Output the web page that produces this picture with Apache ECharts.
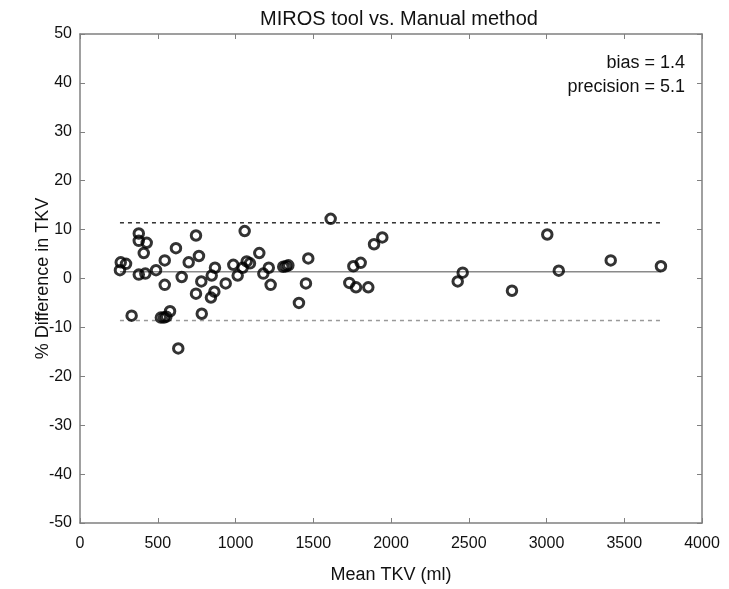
<!DOCTYPE html>
<html>
<head>
<meta charset="utf-8">
<script src="https://cdn.jsdelivr.net/npm/echarts@6/dist/echarts.min.js"></script>
<style>html,body{margin:0;padding:0;background:#fff}#c{width:729px;height:589px}</style>
</head>
<body>
<div id="c"></div>
<script>
var meanTKV = [257, 262, 296, 332, 378, 378, 429, 410, 378, 420, 489, 545, 545,
  520, 540, 555, 579, 617, 632, 654, 699, 746, 765, 746, 780, 783, 847, 868, 864, 842,
  937, 986, 1014, 1059, 1046, 1072, 1093, 1153, 1179, 1214, 1226, 1307, 1325, 1340,
  1408, 1453, 1468, 1612, 1732, 1758, 1775, 1805, 1854, 1891, 1944, 2461, 2429, 2778,
  3005, 3079, 3413, 3736];
var pctDiff = [1.7, 3.3, 3.0, -7.6, 9.2, 7.7, 7.3, 5.2, 0.8, 1.0, 1.7, 3.7, -1.3,
  -8.0, -8.0, -7.8, -6.7, 6.2, -14.3, 0.3, 3.3, 8.8, 4.6, -3.1, -0.6, -7.2, 0.6, 2.2, -2.7, -3.9,
  -1.0, 2.8, 0.6, 9.7, 2.2, 3.5, 3.1, 5.2, 1.0, 2.2, -1.3, 2.4, 2.5, 2.7,
  -5.0, -1.0, 4.1, 12.2, -0.9, 2.5, -1.8, 3.2, -1.8, 7.0, 8.4, 1.2, -0.6, -2.5,
  9.0, 1.6, 3.7, 2.5];
var bias = 1.4;
var precision = 5.1;
var xTicks = [0, 500, 1000, 1500, 2000, 2500, 3000, 3500, 4000];
var yTicks = [-50, -40, -30, -20, -10, 0, 10, 20, 30, 40, 50];

var upper = bias + 1.96 * precision;
var lower = bias - 1.96 * precision;
var xMin = Math.min.apply(null, meanTKV), xMax = Math.max.apply(null, meanTKV);
var pts = meanTKV.map(function (x, i) { return [x, pctDiff[i]]; });

var FONT = 'Liberation Sans';
var axisCol = '#808080';
var txtCol = '#111';
var chart = echarts.init(document.getElementById('c'));
chart.setOption({
  animation: false,
  backgroundColor: '#fff',
  title: {
    text: 'MIROS tool vs. Manual method', left: 394, top: 4, textAlign: 'center',
    textStyle: { fontFamily: FONT, fontSize: 20, fontWeight: 'normal', color: txtCol }
  },
  grid: { left: 80, right: 27, top: 34, bottom: 65 },
  xAxis: [{
    type: 'value', min: xTicks[0], max: xTicks[xTicks.length - 1], interval: 500,
    name: 'Mean TKV (ml)', nameLocation: 'middle', nameGap: 43, nameMoveOverlap: false,
    nameTextStyle: { fontFamily: FONT, fontSize: 18, color: txtCol },
    axisLine: { onZero: false, lineStyle: { color: axisCol, width: 1.5 } },
    axisTick: { inside: true, length: 5, lineStyle: { color: axisCol } },
    axisLabel: { fontFamily: FONT, fontSize: 16, color: txtCol, margin: 13,
      formatter: function (v) { return String(v); } },
    splitLine: { show: false }
  }, {
    type: 'value', position: 'top', min: xTicks[0], max: xTicks[xTicks.length - 1], interval: 500,
    axisLine: { onZero: false, lineStyle: { color: axisCol, width: 1.5 } },
    axisTick: { inside: true, length: 5, lineStyle: { color: axisCol } },
    axisLabel: { show: false }, splitLine: { show: false }
  }],
  yAxis: [{
    type: 'value', min: yTicks[0], max: yTicks[yTicks.length - 1], interval: 10,
    name: '% Difference in TKV', nameLocation: 'middle', nameGap: 28, nameMoveOverlap: false,
    nameTextStyle: { fontFamily: FONT, fontSize: 18, color: txtCol },
    axisLine: { show: true, onZero: false, lineStyle: { color: axisCol, width: 1.5 } },
    axisTick: { show: true, inside: true, length: 5, lineStyle: { color: axisCol } },
    axisLabel: { fontFamily: FONT, fontSize: 16, color: txtCol, margin: 8 },
    splitLine: { show: false }
  }, {
    type: 'value', position: 'right', min: yTicks[0], max: yTicks[yTicks.length - 1], interval: 10,
    axisLine: { show: true, onZero: false, lineStyle: { color: axisCol, width: 1.5 } },
    axisTick: { show: true, inside: true, length: 5, lineStyle: { color: axisCol } },
    axisLabel: { show: false }, splitLine: { show: false }
  }],
  graphic: [{
    type: 'text', right: 44, top: 54,
    style: { text: 'bias = 1.4', font: '18px "' + FONT + '"', fill: txtCol, textAlign: 'right' }
  }, {
    type: 'text', right: 44, top: 78,
    style: { text: 'precision = 5.1', font: '18px "' + FONT + '"', fill: txtCol, textAlign: 'right' }
  }],
  series: [{
    type: 'line', data: [[xMin, bias], [xMax, bias]], symbol: 'none', silent: true,
    lineStyle: { color: '#8a8a8a', width: 1.5 }, z: 1
  }, {
    type: 'line', data: [[xMin, upper], [xMax, upper]], symbol: 'none', silent: true,
    lineStyle: { color: '#333', width: 1.5, type: [4, 4] }, z: 1
  }, {
    type: 'line', data: [[xMin, lower], [xMax, lower]], symbol: 'none', silent: true,
    lineStyle: { color: '#999', width: 1.5, type: [4, 4] }, z: 1
  }, {
    type: 'scatter', data: pts, symbol: 'circle', symbolSize: 9.5,
    itemStyle: { color: 'rgba(0,0,0,0)', borderColor: '#000', borderWidth: 3 }, z: 3
  }]
});
</script>
</body>
</html>
